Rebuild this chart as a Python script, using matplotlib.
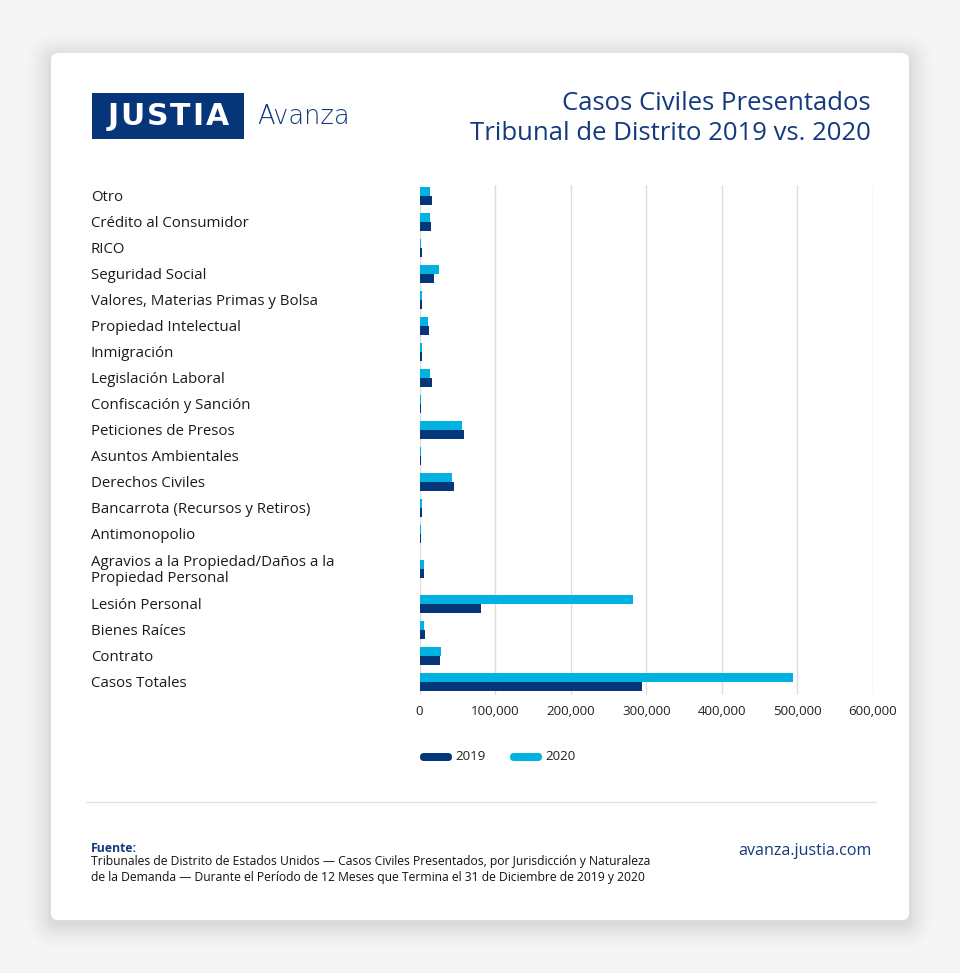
import matplotlib
matplotlib.use("Agg")
import matplotlib.pyplot as plt
from matplotlib.patches import FancyBboxPatch, Rectangle
from matplotlib import transforms
from matplotlib.ticker import FuncFormatter

plt.rcParams['font.family'] = ['Open Sans', 'DejaVu Sans']

categories = [
    "Otro", "Crédito al Consumidor", "RICO", "Seguridad Social",
    "Valores, Materias Primas y Bolsa", "Propiedad Intelectual", "Inmigración",
    "Legislación Laboral", "Confiscación y Sanción", "Peticiones de Presos",
    "Asuntos Ambientales", "Derechos Civiles", "Bancarrota (Recursos y Retiros)",
    "Antimonopolio", "Agravios a la Propiedad/Daños a la\nPropiedad Personal",
    "Lesión Personal", "Bienes Raíces", "Contrato", "Casos Totales",
]
series_names = ["2019", "2020"]
values_2019 = [16000, 15000, 3400, 19000, 3400, 12500, 3400, 16000, 1600, 59000,
               1800, 46000, 3400, 1600, 6200, 82000, 7500, 27000, 294000]
values_2020 = [14500, 13500, 2300, 25500, 3400, 11000, 3000, 14500, 2200, 56000,
               2200, 43000, 3400, 2200, 6200, 283000, 6200, 28500, 494000]
x_ticks = [0, 100000, 200000, 300000, 400000, 500000, 600000]

NAVY = "#06367a"
CYAN = "#00b2e2"
TITLE = "#15397f"

W, H = 960, 973
fig = plt.figure(figsize=(W / 100, H / 100), dpi=100)
fig.patch.set_facecolor("#f5f5f5")

bg = fig.add_axes([0, 0, 1, 1], zorder=0)
bg.set_xlim(0, W)
bg.set_ylim(H, 0)
bg.axis("off")

# shadow + card
for i, a in enumerate([0.006, 0.007, 0.008, 0.010, 0.012, 0.014, 0.016, 0.018]):
    g = 8 - i
    bg.add_patch(FancyBboxPatch((51 - g * 3, 53 - g * 3 + 4), 858 + g * 6, 867 + g * 6,
                                boxstyle="round,pad=0,rounding_size=%g" % (8 + g * 3),
                                facecolor="black", edgecolor="none", alpha=a))
bg.add_patch(FancyBboxPatch((51, 53), 858, 867, boxstyle="round,pad=0,rounding_size=7",
                            facecolor="white", edgecolor="none"))

# logo
bg.add_patch(Rectangle((92, 93), 152, 46, facecolor="#063679", edgecolor="none"))
renderer = fig.canvas.get_renderer()
logo_word = "JUSTIA"
spacing = 2.0
letters = []
widths = []
for ch in logo_word:
    t = bg.text(0, 116.5, ch, color="white", fontsize=21.5, fontweight="bold",
                family=["DejaVu Sans"], ha="left", va="center")
    letters.append(t)
    widths.append(t.get_window_extent(renderer).width)
total = sum(widths) + spacing * (len(widths) - 1)
xcur = 168 - total / 2
for t, w in zip(letters, widths):
    t.set_x(xcur)
    xcur += w + spacing
bg.text(257, 116, "Avanza", color="#12377c", fontsize=18.5, fontweight="light",
        family=["DejaVu Sans"], ha="left", va="center")

# title
bg.text(871, 103, "Casos Civiles Presentados", color=TITLE, fontsize=18.5,
        ha="right", va="center")
bg.text(871, 133, "Tribunal de Distrito 2019 vs. 2020", color=TITLE, fontsize=18.5,
        ha="right", va="center")

# divider
bg.plot([86, 876], [802, 802], color="#e3e3e3", lw=1)

# legend
colors = [NAVY, CYAN]
leg_x = [420, 510]
for name, c, lx in zip(series_names, colors, leg_x):
    bg.add_patch(FancyBboxPatch((lx, 753), 32, 8, boxstyle="round,pad=0,rounding_size=4",
                                facecolor=c, edgecolor="none"))
    bg.text(lx + 35, 757, name, fontsize=9.6, color="#222222", ha="left", va="center")

# footer
bg.text(91, 848, "Fuente:", color=TITLE, fontsize=8.8, fontweight="bold", ha="left", va="center")
bg.text(91, 861, "Tribunales de Distrito de Estados Unidos — Casos Civiles Presentados, por Jurisdicción y Naturaleza",
        color="#111111", fontsize=8.75, ha="left", va="center")
bg.text(91, 877, "de la Demanda — Durante el Período de 12 Meses que Termina el 31 de Diciembre de 2019 y 2020",
        color="#111111", fontsize=8.75, ha="left", va="center")
bg.text(872, 851, "avanza.justia.com", color=TITLE, fontsize=11.6, ha="right", va="center")

# chart axes (pixel-based row positions)
base, extra = 26.0, 18.0
positions = []
cur = 0.0
prev_h = None
for lab in categories:
    h = base + extra * (lab.count("\n"))
    if prev_h is not None:
        cur += prev_h / 2 + h / 2
    positions.append(cur)
    prev_h = h

x0, x1 = 419.5, 873.0
ytop, ybot = 185.0, 695.0
first_px = 196.0
ax = fig.add_axes([x0 / W, 1 - ybot / H, (x1 - x0) / W, (ybot - ytop) / H], zorder=1)
ax.set_facecolor("none")
ax.set_xlim(0, 600000)
ax.set_ylim(ybot - first_px, ytop - first_px)

bh = 9.0
ax.barh([p + bh / 2 for p in positions], values_2019, height=bh, color=NAVY, zorder=3)
ax.barh([p - bh / 2 for p in positions], values_2020, height=bh, color=CYAN, zorder=3)

ax.set_xticks(x_ticks)
ax.xaxis.set_major_formatter(FuncFormatter(lambda v, p: "{:,}".format(int(v))))
ax.tick_params(axis="x", length=0, pad=7, labelsize=9.6, labelcolor="#222222")
ax.set_yticks([])
ax.grid(axis="x", color="#dddddd", lw=1, zorder=0)
for s in ax.spines.values():
    s.set_visible(False)

tr = transforms.blended_transform_factory(fig.transFigure, ax.transData)
for lab, p in zip(categories, positions):
    ax.text(91 / W, p + 1.5, lab, transform=tr, ha="left", va="center", fontsize=10.8,
            color="#1a1a1a", linespacing=1.15, clip_on=False)

fig.savefig("out.png", dpi=100, facecolor=fig.get_facecolor())
